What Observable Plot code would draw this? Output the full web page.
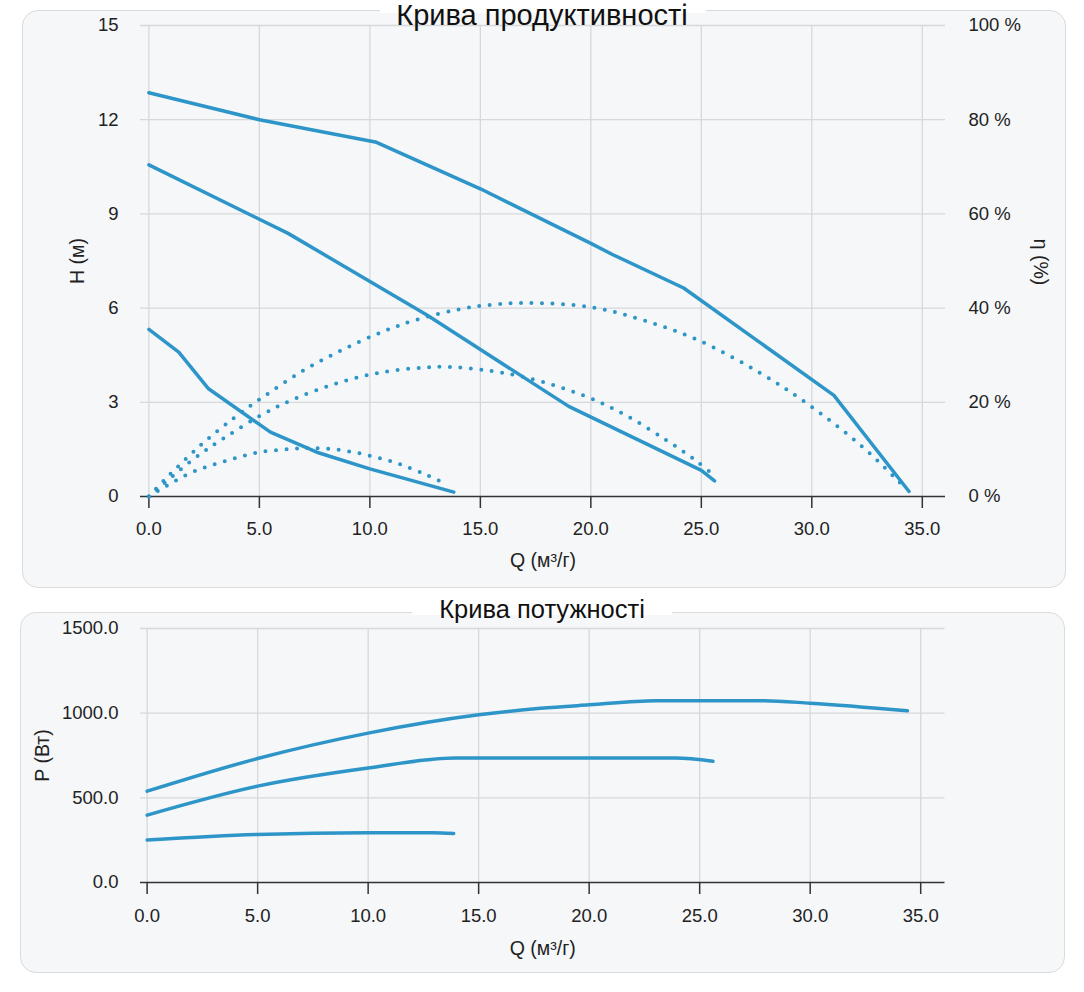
<!DOCTYPE html>
<html><head><meta charset="utf-8">
<script src="https://cdn.jsdelivr.net/npm/d3@7"></script>
<script src="https://cdn.jsdelivr.net/npm/@observablehq/plot@0.6"></script>
<style>
html,body{margin:0;padding:0;background:#fff;}
#root{position:relative;width:1084px;height:992px;font-family:"Liberation Sans",Arial,Helvetica,sans-serif;overflow:hidden;background:#fff;}
.box{position:absolute;background:#f5f7f9;border:1.5px solid #d9dbdd;border-radius:16px;box-sizing:border-box;}
.gap{position:absolute;background:#fff;height:6px;}
.title{position:absolute;left:0;width:1084px;text-align:center;color:#111;z-index:5;}
.plot{position:absolute;left:0;z-index:2;}
.plot svg{background:transparent !important;}
.ylab{position:absolute;font-size:19.5px;color:#222;transform:translate(-50%,-50%) rotate(90deg);white-space:nowrap;z-index:5;}
#root svg g[aria-label="x-axis label"] text, #root svg g[aria-label="y-axis label"] text{font-size:19.5px;}
</style></head>
<body>
<div id="root">
  <div class="box" style="left:22px;top:10px;width:1044px;height:578px;"></div>
  <div class="gap" style="left:380px;top:7px;width:326px;"></div>
  <div class="box" style="left:20px;top:612px;width:1045px;height:361px;"></div>
  <div class="gap" style="left:412px;top:609px;width:260px;"></div>
  <div id="top" class="plot" style="top:0px;"></div>
  <div id="topEta" class="plot" style="top:0px;"></div>
  <div id="bottom" class="plot" style="top:600px;"></div>
  <div class="title" style="top:1px;font-size:29px;line-height:29px;">Крива продуктивності</div>
  <div class="title" style="top:597px;font-size:25.5px;line-height:25.5px;">Крива потужності</div>
  <div class="ylab" style="left:1040px;top:262px;">η (%)</div>
</div>
<script>
// ---- data ----
const xTicks = [0, 5, 10, 15, 20, 25, 30, 35];
const hTicks = [0, 3, 6, 9, 12, 15];
const etaTicks = [0, 20, 40, 60, 80, 100];
const pTicks = [0, 500, 1000, 1500];

// head curves H (m) vs Q (m3/h)
const qH1 = [0, 5, 10.3, 15, 20, 21, 24.2, 27.5, 31.0, 34.4];
const hH1 = [12.86, 12.0, 11.28, 9.8, 8.06, 7.7, 6.64, 4.98, 3.22, 0.16];
const qH2 = [0, 6.3, 12.6, 19.0, 25.0, 25.6];
const hH2 = [10.56, 8.38, 5.77, 2.87, 0.83, 0.5];
const qH3 = [0, 1.35, 2.7, 5.5, 7.6, 10, 13.8];
const hH3 = [5.32, 4.6, 3.43, 2.05, 1.41, 0.88, 0.14];

// efficiency curves η (%) vs Q
const qE1 = [0, 0.83, 2.3, 3.88, 5.16, 6.9, 8.74, 10.64, 12.1, 14.1, 15.7, 17.2, 20, 22.4, 24.9, 27.6, 29.8, 32.3, 33.8, 34.3];
const eE1 = [0, 4.1, 10.7, 16.8, 21.1, 26.5, 31.1, 35.1, 37.5, 39.8, 40.8, 41.1, 40.2, 37.4, 33.1, 26.4, 19.7, 10.5, 3.8, 1.5];
const qE2 = [0, 2.04, 3.4, 5.06, 6.47, 8.4, 10.44, 12.5, 13.56, 15.1, 17.1, 19.7, 21.6, 23.4, 24.7, 25.5];
const eE2 = [0, 8.0, 12.4, 17.2, 20.5, 23.9, 26.3, 27.4, 27.5, 26.9, 25.2, 21.4, 17.2, 12.0, 7.8, 4.8];
const qE3 = [0, 1.88, 3.39, 4.9, 6.4, 7.45, 9.03, 11.07, 12.5, 13.5];
const eE3 = [0, 5.0, 7.4, 9.3, 10.1, 10.3, 9.6, 7.3, 4.7, 2.5];

// power curves P (W) vs Q
const qP1 = [0, 5, 10, 15, 17.8, 20, 23, 27.9, 30, 34.4];
const pP1 = [539, 732, 882, 990, 1029, 1049, 1073, 1073, 1059, 1014];
const qP2 = [0, 5, 10, 13.95, 23.9, 25.6];
const pP2 = [398, 569, 676, 735, 735, 716];
const qP3 = [0, 5, 10, 12.9, 13.87];
const pP3 = [251, 284, 294, 294, 290];

const color = "#2d95c8";
const font = '"Liberation Sans", Arial, Helvetica, sans-serif';

function rows(qs, vs, id) { return qs.map((q, i) => ({q, v: vs[i], id})); }
const headRows = [...rows(qH1, hH1, "a"), ...rows(qH2, hH2, "b"), ...rows(qH3, hH3, "c")];
const etaRows = [...rows(qE1, eE1, "a"), ...rows(qE2, eE2, "b"), ...rows(qE3, eE3, "c")];
const powRows = [...rows(qP1, pP1, "a"), ...rows(qP2, pP2, "b"), ...rows(qP3, pP3, "c")];

const gridStyle = {stroke: "#d6d8da", strokeOpacity: 1, strokeWidth: 1.3};
const baseStyle = {background: "transparent", fontSize: "18.5px", fontFamily: font, color: "#222", overflow: "visible"};

const topPlot = Plot.plot({
  width: 1084, height: 600,
  marginLeft: 140, marginRight: 139, marginTop: 25, marginBottom: 104,
  style: baseStyle,
  x: {domain: [-0.38, 36.05]},
  y: {domain: [0, 15]},
  marks: [
    Plot.gridX(xTicks, gridStyle),
    Plot.gridY(hTicks.filter(d => d > 0), gridStyle),
    Plot.ruleY([0], {stroke: "#333", strokeWidth: 1.5}),
    Plot.axisX(xTicks, {tickSize: 12, tickPadding: 13, stroke: "#333", strokeWidth: 1.5, tickFormat: d => d.toFixed(1),
      label: "Q (м³/г)", labelAnchor: "center", labelOffset: 70, labelArrow: "none"}),
    Plot.axisY(hTicks, {tickSize: 0, tickPadding: 22, label: "H (м)", labelAnchor: "center", labelOffset: 70, labelArrow: "none"}),
    Plot.line(headRows, {x: "q", y: "v", z: "id", stroke: color, strokeWidth: 3.5, strokeLinejoin: "round", strokeLinecap: "round"})
  ]
});
document.getElementById("top").appendChild(topPlot);

const etaPlot = Plot.plot({
  width: 1084, height: 600,
  marginLeft: 140, marginRight: 139, marginTop: 25, marginBottom: 104,
  style: baseStyle,
  x: {domain: [-0.38, 36.05], axis: null},
  y: {domain: [0, 100]},
  marks: [
    Plot.axisY(etaTicks, {anchor: "right", tickSize: 0, tickPadding: 23, tickFormat: d => d + " %", label: null}),
    Plot.line(etaRows, {x: "q", y: "v", z: "id", curve: "catmull-rom", stroke: color, strokeWidth: 4,
      strokeDasharray: "0 10.5", strokeLinecap: "round"})
  ]
});
document.getElementById("topEta").appendChild(etaPlot);

const bottomPlot = Plot.plot({
  width: 1084, height: 392,
  marginLeft: 140, marginRight: 139.5, marginTop: 28, marginBottom: 110,
  style: baseStyle,
  x: {domain: [-0.30, 36.1]},
  y: {domain: [0, 1500]},
  marks: [
    Plot.gridX(xTicks, gridStyle),
    Plot.gridY(pTicks.filter(d => d > 0), gridStyle),
    Plot.ruleY([0], {stroke: "#333", strokeWidth: 1.5}),
    Plot.axisX(xTicks, {tickSize: 12, tickPadding: 14, stroke: "#333", strokeWidth: 1.5, tickFormat: d => d.toFixed(1),
      label: "Q (м³/г)", labelAnchor: "center", labelOffset: 72, labelArrow: "none"}),
    Plot.axisY(pTicks, {tickSize: 0, tickPadding: 22, tickFormat: d => d.toFixed(1), label: "P (Вт)", labelAnchor: "center", labelOffset: 105, labelArrow: "none"}),
    Plot.line(powRows, {x: "q", y: "v", z: "id", curve: "monotone-x", stroke: color, strokeWidth: 3.5, strokeLinecap: "round"})
  ]
});
document.getElementById("bottom").appendChild(bottomPlot);
</script>
</body></html>
